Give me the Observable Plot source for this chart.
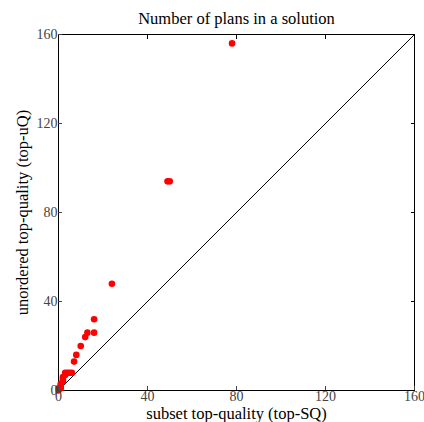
<!DOCTYPE html>
<html>
<head>
<meta charset="utf-8">
<script src="https://cdn.jsdelivr.net/npm/d3@7"></script>
<script src="https://cdn.jsdelivr.net/npm/@observablehq/plot@0.6"></script>
<style>
  body { margin: 0; background: #fff; }
  svg { font-family: "Liberation Serif", "DejaVu Serif", serif; }
</style>
</head>
<body>
<div id="chart"></div>
<script>
const titleText = "Number of plans in a solution";
const xLabel = "subset top-quality (top-SQ)";
const yLabel = "unordered top-quality (top-uQ)";
const ticks = [0, 40, 80, 120, 160];
const topSQ = [0, 0, 1, 1, 1, 2, 2, 2, 3, 3, 4, 5, 6, 7, 8, 10, 12, 13, 16, 16, 24, 49, 50, 78];
const topUQ = [0, 1, 1, 2, 3, 4, 5, 6, 7, 8, 8, 8, 8, 13, 16, 20, 24, 26, 26, 32, 48, 94, 94, 156];
const diagonal = [0, 160];

const points = topSQ.map((x, i) => ({x, y: topUQ[i]}));
const diag = diagonal.map(v => ({x: v, y: v}));

const chart = Plot.plot({
  width: 424,
  height: 422,
  marginLeft: 58,
  marginRight: 10,
  marginTop: 34,
  marginBottom: 32,
  style: {fontFamily: "Liberation Serif, DejaVu Serif, serif", background: "#fff"},
  x: {domain: [0, 160]},
  y: {domain: [0, 160]},
  marks: [
    Plot.frame({stroke: "#000", strokeWidth: 1}),
    Plot.line(diag, {x: "x", y: "y", stroke: "#000", strokeWidth: 1}),
    Plot.dot(points, {x: "x", y: "y", r: 3.3, fill: "#ff0000", stroke: "none"}),
    Plot.axisX({anchor: "bottom", ticks, tickSize: -4, tickPadding: 5, fontSize: 14, color: "#444", label: null, tickFormat: d => d}),
    Plot.axisX({anchor: "top", ticks, tickSize: -4, tickFormat: () => "", label: null}),
    Plot.axisY({anchor: "left", ticks, tickSize: -4, tickPadding: 5, fontSize: 14, color: "#444", label: null, tickFormat: d => d}),
    Plot.axisY({anchor: "right", ticks, tickSize: -4, tickFormat: () => "", label: null}),
    Plot.text([titleText], {frameAnchor: "top", dy: -16, lineAnchor: "middle", textAnchor: "middle", text: d => d, fontSize: 16.5, fill: "#000"}),
    Plot.text([xLabel], {frameAnchor: "bottom", dy: 23, lineAnchor: "middle", textAnchor: "middle", text: d => d, fontSize: 16.5, fill: "#000"}),
    Plot.text([yLabel], {frameAnchor: "left", dx: -36, lineAnchor: "middle", textAnchor: "middle", rotate: -90, text: d => d, fontSize: 16.5, fill: "#000"})
  ]
});
document.getElementById("chart").appendChild(chart);
</script>
</body>
</html>
